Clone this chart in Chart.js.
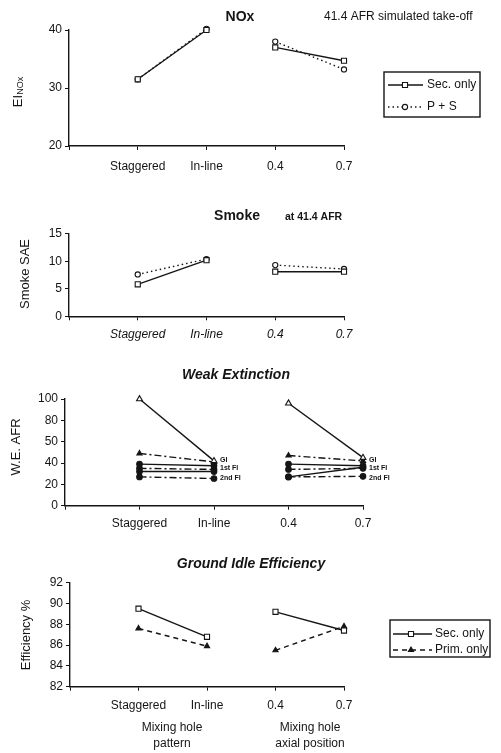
<!DOCTYPE html>
<html>
<head>
<meta charset="utf-8">
<script src="https://cdn.jsdelivr.net/npm/chart.js@4.4.1/dist/chart.umd.min.js"></script>
<style>
    html, body { margin: 0; padding: 0; background: #fff; }
    #page { position: relative; width: 501px; height: 753px; overflow: hidden; background: #fff; }
    canvas { position: absolute; left: 0; }
</style>
</head>
<body>
<div id="page">
    <canvas id="nox" width="501" height="185" style="top:0px"></canvas>
    <canvas id="smoke" width="501" height="165" style="top:185px"></canvas>
    <canvas id="we" width="501" height="195" style="top:350px"></canvas>
    <canvas id="gie" width="501" height="208" style="top:545px"></canvas>
</div>
<script>
// x categories (slot 0 is the empty position at the y axis)
const categories = ['', 'Staggered', 'In-line', '0.4', '0.7'];

// NOx emission index
const noxTicks = [20, 30, 40];
const noxSecOnly = [31.5, 40.0, 37.0, 34.7];
const noxPrimSec = [31.5, 40.2, 38.0, 33.2];

// Smoke number
const smokeTicks = [0, 5, 10, 15];
const smokeSecOnly = [5.8, 10.2, 8.1, 8.1];
const smokePrimSec = [7.6, 10.4, 9.3, 8.6];

// Weak extinction AFR (GI, 1st FI, 2nd FI; solid and dash-dot lines)
const weTicks = [0, 20, 40, 60, 80, 100];
const weTickLabels = ['0', '20', '40', '50', '80', '100'];
const weConditions = ['GI', '1st FI', '2nd FI'];
const weGISolid = [100, 42, 96, 45];
const weGIDash = [49, 41, 47, 42];
const we1stSolid = [39, 37.5, 39, 37.5];
const we1stDash = [35, 34, 34, 35];
const we2ndSolid = [32, 32, 27, 36];
const we2ndDash = [27, 25.5, 27, 27.5];

// Ground idle combustion efficiency
const gieTicks = [82, 84, 86, 88, 90, 92];
const gieSecOnly = [89.5, 86.8, 89.2, 87.4];
const giePrimOnly = [87.6, 85.9, 85.5, 87.8];

const INK = '#151515';
const FONT = '"Liberation Sans", Arial, Helvetica, sans-serif';

// line styles shared by the panels
const STYLE = {
    sec:   { pointStyle: 'rect', pointRadius: 3.6, pointBackgroundColor: '#fff', borderDash: [] },
    ps:    { pointStyle: 'circle', pointRadius: 2.6, pointBackgroundColor: '#fff', borderDash: [1.5, 3] },
    prim:  { pointStyle: 'triangle', pointRadius: 3, pointBackgroundColor: INK, borderDash: [5, 4] },
    solidTri: { pointStyle: 'triangle', pointRadius: 3.4, pointBackgroundColor: '#fff', borderDash: [] },
    dashTri:  { pointStyle: 'triangle', pointRadius: 3, pointBackgroundColor: INK, borderDash: [7, 3, 2, 3] },
    solidDot: { pointStyle: 'circle', pointRadius: 2.8, pointBackgroundColor: INK, borderDash: [] },
    dashDot:  { pointStyle: 'circle', pointRadius: 2.8, pointBackgroundColor: INK, borderDash: [7, 3, 2, 3] }
};

function series(label, values, style) {
    return Object.assign({
        label: label,
        data: [null].concat(values),
        borderColor: INK,
        pointBorderColor: INK,
        borderWidth: 1.4,
        pointBorderWidth: 1.1,
        tension: 0,
        spanGaps: false,
        clip: false,
        // no line between the two groups (In-line -> 0.4)
        segment: { borderColor: c => (c.p0DataIndex === 2 ? 'rgba(0,0,0,0)' : undefined) }
    }, style);
}

function textPlugin(items, top) {
    return {
        id: 'panelText',
        afterDraw(chart) {
            const ctx = chart.ctx;
            items.forEach(t => {
                const pos = typeof t.at === 'function' ? t.at(chart) : t.at;
                ctx.save();
                ctx.fillStyle = INK;
                ctx.textBaseline = 'middle';
                ctx.translate(pos[0], pos[1] - (typeof t.at === 'function' ? 0 : top));
                if (t.rotate) ctx.rotate(-Math.PI / 2);
                if (t.sub) {
                    ctx.font = t.font;
                    const w1 = ctx.measureText(t.text).width;
                    ctx.font = t.subFont;
                    const w2 = ctx.measureText(t.sub).width;
                    const x0 = -(w1 + w2) / 2;
                    ctx.textAlign = 'left';
                    ctx.font = t.font;
                    ctx.fillText(t.text, x0, 0);
                    ctx.font = t.subFont;
                    ctx.fillText(t.sub, x0 + w1, 3);
                } else {
                    ctx.font = t.font;
                    ctx.textAlign = t.align || 'center';
                    ctx.fillText(t.text, 0, 0);
                }
                ctx.restore();
            });
        }
    };
}

function legendPlugin(lg, top) {
    return {
        id: 'boxLegend',
        afterDraw(chart) {
            if (!lg) return;
            const ctx = chart.ctx;
            ctx.save();
            ctx.strokeStyle = INK;
            ctx.lineWidth = 1.4;
            ctx.strokeRect(lg.box[0], lg.box[1] - top, lg.box[2], lg.box[3]);
            lg.rows.forEach((dsIndex, i) => {
                const ds = chart.data.datasets[dsIndex];
                const y = lg.rowY[i] - top;
                ctx.strokeStyle = INK;
                ctx.lineWidth = ds.borderWidth;
                ctx.setLineDash(ds.borderDash || []);
                ctx.beginPath();
                ctx.moveTo(lg.lineX[0], y);
                ctx.lineTo(lg.lineX[1], y);
                ctx.stroke();
                ctx.setLineDash([]);
                ctx.fillStyle = ds.pointBackgroundColor;
                ctx.lineWidth = ds.pointBorderWidth;
                Chart.helpers.drawPoint(ctx, {
                    pointStyle: ds.pointStyle, radius: ds.pointRadius,
                    rotation: 0, borderWidth: ds.pointBorderWidth
                }, lg.markX, y);
                ctx.fillStyle = INK;
                ctx.font = '12px ' + FONT;
                ctx.textAlign = 'left';
                ctx.textBaseline = 'middle';
                ctx.fillText(ds.label, lg.textX, y);
            });
            ctx.restore();
        }
    };
}

function makePanel(id, p) {
    const tickFont = { family: FONT, size: 12, style: p.italicTicks ? 'italic' : 'normal' };
    const tickMarks = { display: true, drawOnChartArea: false, drawTicks: true, tickLength: 4, color: INK, lineWidth: 1 };
    const yT = p.yTicks;
    return new Chart(document.getElementById(id), {
        type: 'line',
        data: { labels: categories, datasets: p.datasets },
        options: {
            responsive: false,
            animation: false,
            devicePixelRatio: 1,
            layout: { padding: { top: p.area.top - p.top, right: 501 - p.area.right, left: 0, bottom: 0 } },
            plugins: { legend: { display: false }, tooltip: { enabled: false } },
            scales: {
                x: {
                    type: 'category',
                    offset: false,
                    grid: tickMarks,
                    border: { color: INK, width: 1.4 },
                    ticks: { color: INK, font: tickFont, padding: p.xPad, maxRotation: 0, autoSkip: false },
                    afterFit: s => { s.height = p.height - (p.area.bottom - p.top); }
                },
                y: {
                    min: yT[0],
                    max: yT[yT.length - 1],
                    grid: tickMarks,
                    border: { color: INK, width: 1.4 },
                    ticks: {
                        color: INK,
                        font: { family: FONT, size: 12 },
                        padding: 3,
                        stepSize: yT[1] - yT[0],
                        callback: p.yLabel || (v => v)
                    },
                    afterFit: s => { s.width = p.area.left; }
                }
            }
        },
        plugins: [textPlugin(p.texts, p.top), legendPlugin(p.legend, p.top)]
    });
}

// 1. NOx
makePanel('nox', {
    top: 0, height: 185,
    area: { left: 69, right: 344, top: 30, bottom: 146 },
    xPad: 9,
    yTicks: noxTicks,
    datasets: [
        series('Sec. only', noxSecOnly, STYLE.sec),
        series('P + S', noxPrimSec, STYLE.ps)
    ],
    texts: [
        { text: 'NOx', at: [240, 17], font: 'bold 14px ' + FONT },
        { text: '41.4 AFR simulated take-off', at: [324, 17], font: '12px ' + FONT, align: 'left' },
        { text: 'EI', sub: 'NOx', at: [18, 92], rotate: true, font: '13px ' + FONT, subFont: '9px ' + FONT }
    ],
    legend: { box: [384, 72, 96, 45], rows: [0, 1], rowY: [85, 107], lineX: [388, 423], markX: 405, textX: 427 }
});

// 2. Smoke
makePanel('smoke', {
    top: 185, height: 165,
    area: { left: 69, right: 344, top: 233.7, bottom: 316.3 },
    xPad: 7,
    italicTicks: true,
    yTicks: smokeTicks,
    datasets: [
        series('Sec. only', smokeSecOnly, STYLE.sec),
        series('P + S', smokePrimSec, STYLE.ps)
    ],
    texts: [
        { text: 'Smoke', at: [237, 216], font: 'bold 14px ' + FONT },
        { text: 'at 41.4 AFR', at: [285, 217], font: 'bold 10.5px ' + FONT, align: 'left' },
        { text: 'Smoke SAE', at: [25, 274], rotate: true, font: '13px ' + FONT }
    ]
});

// 3. Weak extinction
const weLevels = [43, 35, 26];
const weTexts = [
    { text: 'Weak Extinction', at: [236, 375], font: 'italic bold 14px ' + FONT },
    { text: 'W.E. AFR', at: [16, 447], rotate: true, font: '13px ' + FONT }
];
[2, 4].forEach(idx => {
    weConditions.forEach((name, k) => {
        weTexts.push({
            text: name, align: 'left', font: 'bold 7px ' + FONT,
            at: chart => [chart.scales.x.getPixelForValue(idx) + 6, chart.scales.y.getPixelForValue(weLevels[k])]
        });
    });
});
makePanel('we', {
    top: 350, height: 195,
    area: { left: 65, right: 363, top: 399, bottom: 505.7 },
    xPad: 7,
    yTicks: weTicks,
    yLabel: (v, i) => weTickLabels[i],
    datasets: [
        series('GI', weGISolid, STYLE.solidTri),
        series('GI', weGIDash, STYLE.dashTri),
        series('1st FI', we1stSolid, STYLE.solidDot),
        series('1st FI', we1stDash, STYLE.dashDot),
        series('2nd FI', we2ndSolid, STYLE.solidDot),
        series('2nd FI', we2ndDash, STYLE.dashDot)
    ],
    texts: weTexts
});

// 4. Ground idle efficiency
makePanel('gie', {
    top: 545, height: 208,
    area: { left: 70, right: 344, top: 582.7, bottom: 686.7 },
    xPad: 8,
    yTicks: gieTicks,
    datasets: [
        series('Sec. only', gieSecOnly, STYLE.sec),
        series('Prim. only', giePrimOnly, STYLE.prim)
    ],
    texts: [
        { text: 'Ground Idle Efficiency', at: [251, 564], font: 'italic bold 14px ' + FONT },
        { text: 'Efficiency %', at: [26, 635], rotate: true, font: '13px ' + FONT },
        { text: 'Mixing hole', at: [172, 728], font: '12px ' + FONT },
        { text: 'pattern', at: [172, 744], font: '12px ' + FONT },
        { text: 'Mixing hole', at: [310, 728], font: '12px ' + FONT },
        { text: 'axial position', at: [310, 744], font: '12px ' + FONT }
    ],
    legend: { box: [390, 620, 100, 37], rows: [0, 1], rowY: [634, 650], lineX: [393, 432], markX: 411, textX: 435 }
});
</script>
</body>
</html>
